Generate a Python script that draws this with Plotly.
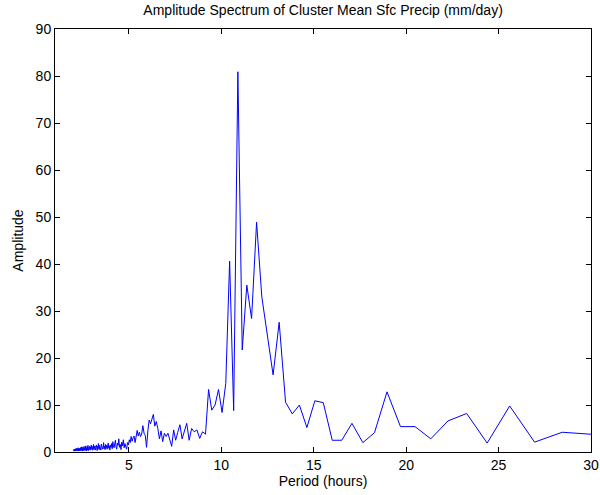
import plotly.graph_objects as go

# Period (hours) of each spectral estimate
periods = [
    2.000, 2.008, 2.016, 2.024, 2.032, 2.040, 2.048, 2.056, 2.065, 2.073,
    2.081, 2.090, 2.098, 2.107, 2.116, 2.124, 2.133, 2.142, 2.151, 2.160,
    2.169, 2.179, 2.188, 2.197, 2.207, 2.216, 2.226, 2.236, 2.246, 2.256,
    2.265, 2.276, 2.286, 2.296, 2.306, 2.317, 2.327, 2.338, 2.349, 2.359,
    2.370, 2.381, 2.393, 2.404, 2.415, 2.427, 2.438, 2.450, 2.462, 2.473,
    2.485, 2.498, 2.510, 2.522, 2.535, 2.547, 2.560, 2.573, 2.586, 2.599,
    2.612, 2.626, 2.639, 2.653, 2.667, 2.681, 2.695, 2.709, 2.723, 2.738,
    2.753, 2.768, 2.783, 2.798, 2.813, 2.829, 2.844, 2.860, 2.876, 2.893,
    2.909, 2.926, 2.943, 2.960, 2.977, 2.994,
    3.012, 3.030, 3.048, 3.066, 3.084, 3.103, 3.122, 3.141, 3.160, 3.180,
    3.200, 3.220, 3.241, 3.261, 3.282, 3.303, 3.325, 3.346, 3.368, 3.391,
    3.413, 3.436, 3.459, 3.483, 3.507, 3.531, 3.556, 3.580, 3.606, 3.631,
    3.657, 3.683, 3.710, 3.737, 3.765, 3.793, 3.821, 3.850, 3.879, 3.908,
    3.938, 3.969, 4.000,
    4.031, 4.063, 4.096, 4.129, 4.163, 4.197, 4.231, 4.267, 4.303, 4.339,
    4.376, 4.414, 4.452, 4.491, 4.531, 4.571, 4.613, 4.655, 4.697, 4.741,
    4.785, 4.830, 4.876, 4.923, 4.971,
    5.020, 5.069, 5.120, 5.172, 5.224, 5.278, 5.333, 5.389, 5.447, 5.505,
    5.565, 5.626, 5.689, 5.753, 5.818, 5.885, 5.953,
    6.024, 6.095, 6.169, 6.244, 6.321, 6.400, 6.481, 6.564, 6.649, 6.737,
    6.827, 6.919, 7.014, 7.111, 7.211, 7.314, 7.420, 7.529, 7.642, 7.758,
    7.877, 8.000, 8.127, 8.258, 8.393, 8.533, 8.678, 8.828, 8.982, 9.143,
    9.309,
    9.481, 9.660, 9.846, 10.039, 10.240, 10.449, 10.667, 10.894, 11.130, 11.378,
    11.636, 11.907, 12.190, 12.488, 12.800, 13.128, 13.474, 13.838, 14.222, 14.629,
    15.059, 15.515, 16.000, 16.516, 17.067, 17.655, 18.286, 18.963, 19.692, 20.480,
    21.333, 22.261, 23.273, 24.381, 25.600, 26.947, 28.444, 30.118,
]

# Amplitude (mm/day) at each period
amplitudes = [
    # 2-3 h
    0.3, 0.5, 0.2, 0.4, 0.6, 0.3, 0.2, 0.5, 0.4, 0.3, 0.6, 0.2, 0.5, 0.3, 0.7, 0.4, 0.2, 0.5, 0.6, 0.3,
    0.4, 0.8, 0.3, 0.5, 0.2, 0.7, 0.4, 0.6, 0.3, 0.9, 0.5, 0.2, 0.6, 0.4, 0.8, 0.3, 0.5, 0.7, 0.2, 0.6,
    0.9, 0.4, 0.6, 1.0, 0.3, 0.7, 0.5, 1.1, 0.4, 0.8, 0.2, 0.6, 1.0, 0.5, 0.7, 0.3, 0.9, 1.2, 0.4, 0.6,
    0.8, 0.3, 1.0, 0.6, 1.3, 0.5, 0.7, 0.2, 0.9, 1.1, 0.4, 0.8, 1.4, 0.6, 0.3, 1.0, 0.7, 1.2, 0.5, 0.9,
    0.4, 1.1, 0.6, 1.5, 0.8, 0.5,
    # 3-4 h
    0.9, 0.4, 1.2, 0.7, 1.6, 0.5, 1.0, 0.8, 1.3, 0.4, 1.1, 0.6, 1.5, 0.9, 0.3, 1.2, 0.7, 1.8, 1.0, 0.5,
    1.4, 0.8, 1.1, 0.4, 1.7, 0.9, 1.3, 0.6, 1.0, 2.0, 0.7, 1.2, 0.5, 1.6, 0.9, 1.4, 0.6, 1.1, 1.9, 0.8,
    1.3, 0.4, 1.5,
    # 4-5 h
    1.0, 1.8, 0.7, 2.2, 1.3, 0.9, 1.7, 2.5, 1.1, 0.6, 1.9, 1.4, 2.8, 1.0, 1.6, 0.5, 2.1, 1.3, 2.6, 0.9,
    1.8, 1.2, 0.6, 2.0, 1.5,
    # 5-6 h
    2.6, 2.0, 3.3, 2.3, 3.0, 3.4, 2.0, 3.6, 4.6, 3.4, 4.2, 3.3, 3.8, 5.6, 4.0, 3.5, 1.0,
    # 6-9.3 h
    4.5, 6.8, 6.0, 7.2, 8.0, 5.5, 6.5, 5.0, 2.8, 4.5, 2.2, 4.0, 3.3, 4.0, 2.8, 1.2, 4.7, 2.5, 4.2, 5.8,
    2.8, 4.5, 6.1, 2.5, 5.0, 4.3, 4.7, 2.9, 4.3, 3.8, 13.3,
    # 9.5-30 h
    8.9, 10.0, 13.3, 8.4, 14.6, 40.6, 8.8, 80.9, 21.7, 35.5,
    28.4, 48.9, 33.0, 24.5, 16.4, 27.6, 10.6, 8.1, 10.0, 5.2,
    10.9, 10.5, 2.5, 2.5, 6.1, 2.0, 4.1, 12.8, 5.4, 5.4,
    2.8, 6.6, 8.2, 1.9, 9.8, 2.1, 4.2, 3.75,
]

x_ticks = [5, 10, 15, 20, 25, 30]
y_ticks = [0, 10, 20, 30, 40, 50, 60, 70, 80, 90]

FONT = "Liberation Sans, Arial, Helvetica, sans-serif"

fig = go.Figure(
    go.Scatter(
        x=periods,
        y=amplitudes,
        mode="lines",
        line=dict(color="#0000ff", width=1),
        hoverinfo="skip",
    )
)

axis_common = dict(
    showgrid=False,
    zeroline=False,
    showline=True,
    linecolor="black",
    linewidth=1,
    mirror="ticks",
    ticks="inside",
    ticklen=5,
    tickwidth=1,
    tickcolor="black",
    automargin=False,
    tickfont=dict(family=FONT, size=14, color="black"),
)

fig.update_layout(
    width=600,
    height=495,
    margin=dict(l=55, r=9, t=29, b=43, autoexpand=False),
    paper_bgcolor="white",
    plot_bgcolor="white",
    showlegend=False,
    title=dict(
        text="Amplitude Spectrum of Cluster Mean Sfc Precip (mm/day)",
        font=dict(family=FONT, size=14, color="black"),
        x=0.5385,
        xanchor="center",
        y=0.98,
        yanchor="middle",
    ),
    xaxis=dict(
        range=[1, 30],
        tickvals=x_ticks,
        ticktext=[str(v) for v in x_ticks],
        title=dict(text="Period (hours)", font=dict(family=FONT, size=14, color="black"), standoff=2),
        **axis_common,
    ),
    yaxis=dict(
        range=[0, 90],
        tickvals=y_ticks,
        ticktext=[str(v) for v in y_ticks],
        title=dict(text="Amplitude", font=dict(family=FONT, size=14, color="black"), standoff=8),
        **axis_common,
    ),
)

fig.write_html("out.html")
